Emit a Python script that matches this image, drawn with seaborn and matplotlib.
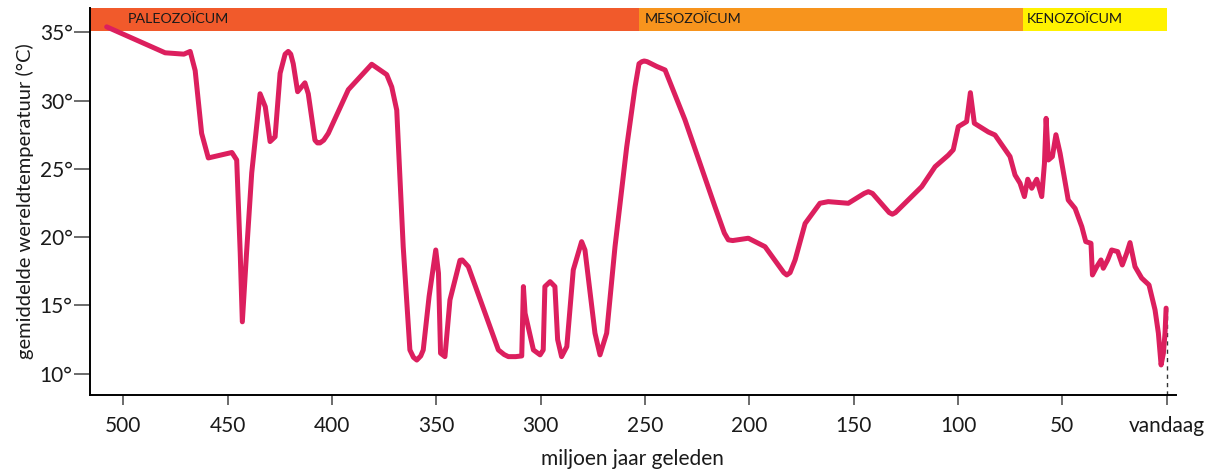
import numpy as np
import pandas as pd
import matplotlib
matplotlib.use("Agg")
import matplotlib.pyplot as plt
import seaborn as sns

# --- data: millions of years ago vs. mean global temperature ---
ma = [508, 480, 471, 468, 465.6, 462.5, 459.3, 448, 445.7, 444, 443, 441, 438.5,
      434.5, 432, 429.7, 427.3, 424.9, 422.5, 421, 419.8, 418.6, 416.5, 413, 411.4, 408.2,
      407, 405.8, 404, 401.8, 392.2, 381, 373.8, 371.4, 369, 365.9, 362.7, 361, 359.4,
      357.5, 356.3, 353.5, 350.3, 349, 348, 345.9, 343.5, 338.7, 337.6, 334.7, 320.3,
      317.5, 315.5, 312, 309.1, 308.3, 307.5, 303.5, 300.3, 298.8, 298, 295.5, 293.2,
      291.9, 290, 287.5, 284.4, 280.4, 278.8, 274, 271.6, 268.4, 264.4, 258.8, 254.8,
      252.9, 251.5, 250.4, 249, 244.4, 240.4, 230.9, 216.5, 212, 210.1, 208, 200.5,
      192.5, 183.5, 182.1, 180.5, 178.1, 173.3, 166.2, 162.2, 152.6, 145, 143, 141,
      133, 131.5, 130, 117.4, 111, 104.7, 102.3, 99.9, 95.9, 94.1, 92.2, 85.5, 82.3,
      75.1, 72.7, 70.3, 68.2, 66.6, 64.7, 62.3, 59.9, 58.6, 57.8, 56.7, 54.8, 53.1,
      51.1, 47.2, 43.9, 40.7, 38.8, 36.3, 35.6, 33.5, 31.5, 30.4, 28.3, 26.4, 23.5,
      21.3, 19.2, 17.6, 15.2, 12.0, 8.5, 5.6, 4.0, 2.7, 1.6, 0.8, 0.3]
temp = [35.4, 33.5, 33.4, 33.6, 32.2, 27.6, 25.8, 26.2, 25.65, 18.8, 13.8, 18.8, 24.7,
        30.5, 29.55, 27.0, 27.35, 32.0, 33.4, 33.6, 33.4, 32.7, 30.65, 31.3, 30.5, 27.1,
        26.9, 26.9, 27.1, 27.6, 30.8, 32.66, 31.9, 31.0, 29.3, 19.3, 11.74, 11.2, 11.0,
        11.3, 11.74, 15.65, 19.06, 17.36, 11.5, 11.25, 15.4, 18.3, 18.33, 17.84, 11.74,
        11.4, 11.25, 11.25, 11.3, 16.38, 14.43, 11.74, 11.38, 11.74, 16.38, 16.74, 16.38,
        12.5, 11.25, 11.98, 17.6, 19.67, 19.06, 12.97, 11.38, 12.97, 19.3, 26.6, 31.0,
        32.7, 32.85, 32.9, 32.85, 32.5, 32.24, 28.6, 22.23, 20.3, 19.8, 19.75, 19.92,
        19.3, 17.4, 17.23, 17.4, 18.33, 21.0, 22.48, 22.6, 22.48, 23.2, 23.33, 23.2,
        21.8, 21.68, 21.8, 23.7, 25.16, 26.0, 26.4, 28.09, 28.46, 30.58, 28.34, 27.7, 27.48,
        25.9, 24.55, 23.95, 22.97, 24.24, 23.58, 24.24, 22.97, 25.4, 28.7, 25.65, 25.9, 27.5,
        26.14, 22.72, 22.1, 20.77, 19.67, 19.55, 17.23, 17.84, 18.33, 17.72, 18.33, 19.06, 18.94,
        17.96, 18.82, 19.6, 17.84, 17.0, 16.5, 14.67, 12.97, 10.64, 11.5, 13.0, 14.8]

era_names = ["PALEOZOÏCUM", "MESOZOÏCUM", "KENOZOÏCUM"]
era_start = [516, 253, 69]
era_end = [253, 69, 0]
era_colors = ["#F15A2B", "#F7941D", "#FFF200"]
era_label_x = [498, 250, 67]

x_ticks = [500, 450, 400, 350, 300, 250, 200, 150, 100, 50, 0]
x_ticklabels = ["500", "450", "400", "350", "300", "250", "200", "150", "100", "50", "vandaag"]
y_ticks = [10, 15, 20, 25, 30, 35]

df = pd.DataFrame({"ma": ma, "temp": temp})

sns.set_theme(style="white")
plt.rcParams["font.family"] = ["Lato", "DejaVu Sans"]

fig = plt.figure(figsize=(12.15, 4.69), dpi=100)
ax = fig.add_axes([90 / 1215, 74 / 469, 1085.7 / 1215, 387 / 469])

ax.set_xlim(516, -4.3)
ax.set_ylim(8.44, 36.78)

# era band along the top
for name, s, e, c, lx in zip(era_names, era_start, era_end, era_colors, era_label_x):
    ax.axvspan(s, e, ymin=0.9413, ymax=1.0, color=c, lw=0, zorder=1)
    ax.text(lx, 35.95, name, fontsize=10.3, color="#1a1a1a", va="center", ha="left", zorder=3)

# dashed marker for today
ax.plot([0, 0], [8.44, 14.8], ls=(0, (3, 3)), color="#333333", lw=1, zorder=2)

sns.lineplot(data=df, x="ma", y="temp", sort=False, estimator=None, ax=ax,
             color="#DC1F5E", lw=3.6, zorder=4)
ax.lines[-1].set_solid_joinstyle("round")
ax.lines[-1].set_solid_capstyle("round")

ax.set_xticks(x_ticks)
ax.set_xticklabels(x_ticklabels)
ax.set_yticks(y_ticks)
ax.set_yticklabels([f"{t}°" for t in y_ticks])

for side in ["top", "right"]:
    ax.spines[side].set_visible(False)
for side in ["left", "bottom"]:
    ax.spines[side].set_color("black")
    ax.spines[side].set_linewidth(1.4)

ax.tick_params(axis="x", bottom=True, length=7.2, width=1.1, color="#444444",
               labelsize=15, pad=8, labelcolor="#1a1a1a")
ax.tick_params(axis="y", left=True, length=11.5, width=1.1, color="#444444",
               labelsize=15, pad=1, labelcolor="#1a1a1a")

ax.set_xlabel("miljoen jaar geleden", fontsize=15, color="#1a1a1a", labelpad=9)
ax.set_ylabel("gemiddelde wereldtemperatuur (°C)", fontsize=14.5, color="#1a1a1a", labelpad=4)
ax.grid(False)

fig.savefig("out.png", dpi=100)
